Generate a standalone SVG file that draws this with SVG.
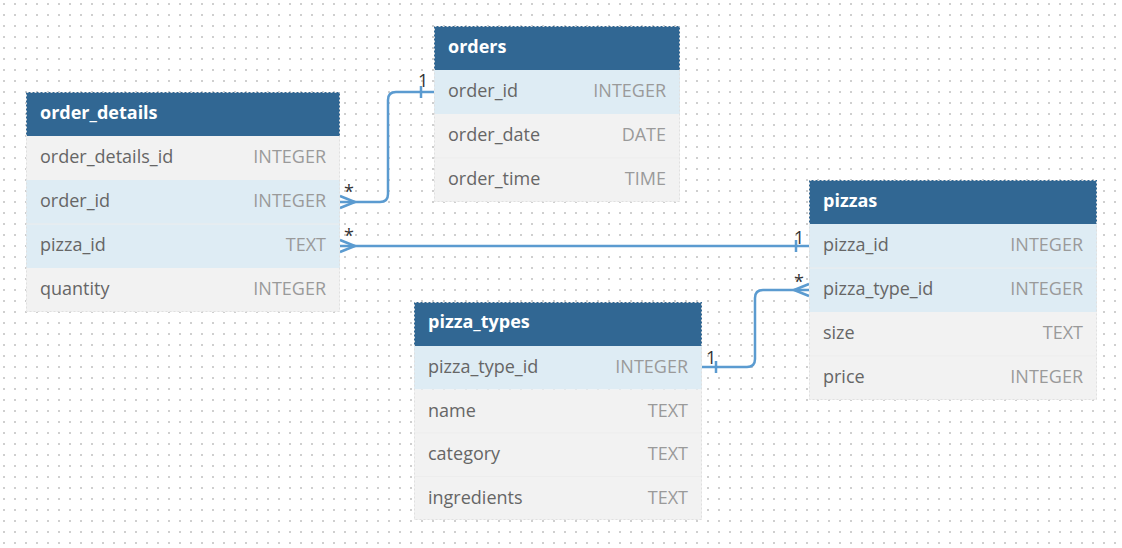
<svg xmlns="http://www.w3.org/2000/svg" width="1122" height="548" viewBox="0 0 1122 548">
<defs>
<pattern id="grid" x="0" y="0" width="11" height="11" patternUnits="userSpaceOnUse">
<rect x="3" y="3" width="2" height="2" fill="#cfcfcf"/>
</pattern>
<style>
.hdr{fill:#316793}
.row{fill:#f2f2f2}
.key{fill:#deecf4}
.frame{fill:none;stroke:#e0e0e0;stroke-width:1;stroke-dasharray:2 2}
.sep{stroke:#ededed;stroke-width:1}
.title{font-family:"Open Sans",sans-serif;font-weight:bold;font-size:18px;fill:#ffffff}
.name{font-family:"Open Sans",sans-serif;font-size:18px;fill:#666666}
.type{font-family:"Open Sans",sans-serif;font-size:18px;fill:#9a9a9a;text-anchor:end}
.conn{fill:none;stroke:#5b9bd0;stroke-width:2.5}
.lbl{font-family:"Open Sans",sans-serif;font-size:18px;fill:#333333}
</style>
</defs>
<rect width="1122" height="548" fill="#ffffff"/>
<rect width="1122" height="548" fill="url(#grid)"/>

<g id="connectors">
<path class="conn" d="M340,202 H380 Q388,202 388,194 V100 Q388,92 396,92 H434"/>
<path class="conn" d="M340,196 L355,202 L340,208"/>
<line class="conn" x1="421" y1="86" x2="421" y2="98"/>
<text class="lbl" x="418" y="87">1</text>
<text class="lbl" x="344" y="198">*</text>

<path class="conn" d="M340,246 H809"/>
<path class="conn" d="M340,240 L355,246 L340,252"/>
<line class="conn" x1="796" y1="240" x2="796" y2="252"/>
<text class="lbl" x="794" y="244">1</text>
<text class="lbl" x="344" y="242">*</text>

<path class="conn" d="M702,367 H747 Q755,367 755,359 V298 Q755,290 763,290 H809"/>
<path class="conn" d="M809,284 L794,290 L809,296"/>
<line class="conn" x1="716" y1="361" x2="716" y2="373"/>
<text class="lbl" x="706" y="364">1</text>
<text class="lbl" x="794" y="288">*</text>
</g>

<g id="order_details">
<rect class="hdr" x="26" y="92" width="314" height="44"/>
<rect class="row" x="26" y="136" width="314" height="44"/>
<rect class="key" x="26" y="180" width="314" height="44"/>
<rect class="key" x="26" y="224" width="314" height="44"/>
<rect class="row" x="26" y="268" width="314" height="44"/>
<line class="sep" x1="26" y1="224" x2="340" y2="224"/>
<rect class="frame" x="26.5" y="92.5" width="313" height="219"/>
<text class="title" x="40" y="119">order_details</text>
<text class="name" x="40" y="163">order_details_id</text><text class="type" x="326" y="163">INTEGER</text>
<text class="name" x="40" y="207">order_id</text><text class="type" x="326" y="207">INTEGER</text>
<text class="name" x="40" y="251">pizza_id</text><text class="type" x="326" y="251">TEXT</text>
<text class="name" x="40" y="295">quantity</text><text class="type" x="326" y="295">INTEGER</text>
</g>

<g id="orders">
<rect class="hdr" x="434" y="26" width="246" height="44"/>
<rect class="key" x="434" y="70" width="246" height="44"/>
<rect class="row" x="434" y="114" width="246" height="44"/>
<rect class="row" x="434" y="158" width="246" height="44"/>
<line class="sep" x1="434" y1="158" x2="680" y2="158"/>
<rect class="frame" x="434.5" y="26.5" width="245" height="175"/>
<text class="title" x="448" y="53">orders</text>
<text class="name" x="448" y="97">order_id</text><text class="type" x="666" y="97">INTEGER</text>
<text class="name" x="448" y="141">order_date</text><text class="type" x="666" y="141">DATE</text>
<text class="name" x="448" y="185">order_time</text><text class="type" x="666" y="185">TIME</text>
</g>

<g id="pizzas">
<rect class="hdr" x="809" y="180" width="288" height="44"/>
<rect class="key" x="809" y="224" width="288" height="44"/>
<rect class="key" x="809" y="268" width="288" height="44"/>
<rect class="row" x="809" y="312" width="288" height="44"/>
<rect class="row" x="809" y="356" width="288" height="44"/>
<line class="sep" x1="809" y1="268" x2="1097" y2="268"/>
<line class="sep" x1="809" y1="356" x2="1097" y2="356"/>
<rect class="frame" x="809.5" y="180.5" width="287" height="219"/>
<text class="title" x="823" y="207">pizzas</text>
<text class="name" x="823" y="251">pizza_id</text><text class="type" x="1083" y="251">INTEGER</text>
<text class="name" x="823" y="295">pizza_type_id</text><text class="type" x="1083" y="295">INTEGER</text>
<text class="name" x="823" y="339">size</text><text class="type" x="1083" y="339">TEXT</text>
<text class="name" x="823" y="383">price</text><text class="type" x="1083" y="383">INTEGER</text>
</g>

<g id="pizza_types">
<rect class="hdr" x="414" y="302" width="288" height="44"/>
<rect class="key" x="414" y="346" width="288" height="43.5"/>
<rect class="row" x="414" y="389.5" width="288" height="43.5"/>
<rect class="row" x="414" y="433" width="288" height="43.5"/>
<rect class="row" x="414" y="476.5" width="288" height="43.5"/>
<line class="sep" x1="414" y1="433" x2="702" y2="433"/>
<line class="sep" x1="414" y1="476.5" x2="702" y2="476.5"/>
<rect class="frame" x="414.5" y="302.5" width="287" height="217"/>
<text class="title" x="428" y="328">pizza_types</text>
<text class="name" x="428" y="373">pizza_type_id</text><text class="type" x="688" y="373">INTEGER</text>
<text class="name" x="428" y="416.5">name</text><text class="type" x="688" y="416.5">TEXT</text>
<text class="name" x="428" y="460">category</text><text class="type" x="688" y="460">TEXT</text>
<text class="name" x="428" y="503.5">ingredients</text><text class="type" x="688" y="503.5">TEXT</text>
</g>
</svg>
